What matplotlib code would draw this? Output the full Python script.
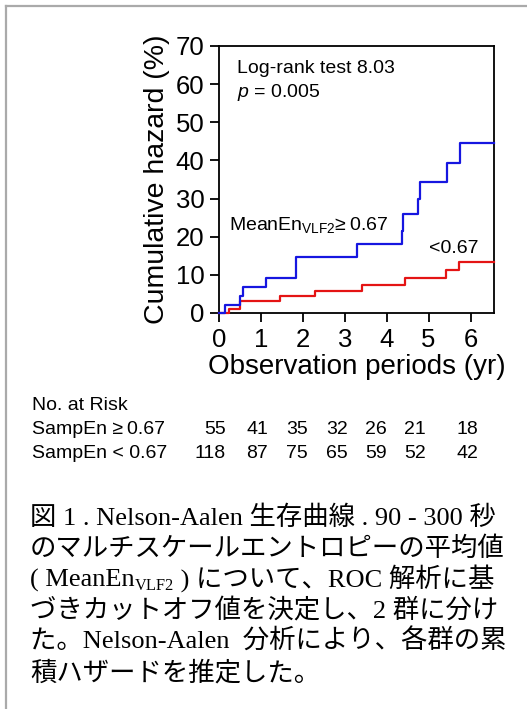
import matplotlib
matplotlib.use("Agg")
import matplotlib.pyplot as plt
from matplotlib.lines import Line2D

W, H = 527, 709
plt.rcParams['font.family'] = ['Liberation Sans', 'DejaVu Sans']
plt.rcParams['mathtext.fontset'] = 'custom'
plt.rcParams['mathtext.rm'] = 'Liberation Sans'
plt.rcParams['mathtext.it'] = 'Liberation Sans:italic'

# ---- data ----
blue_t = [0, 0.14, 0.50, 0.58, 1.12, 1.83, 3.30, 4.36, 4.40, 4.75, 4.79, 5.44, 5.74, 6.56]
blue_h = [0, 2.0, 4.5, 6.7, 9.3, 14.8, 18.1, 21.5, 25.9, 29.9, 34.4, 39.3, 44.6, 44.6]
red_t = [0, 0.25, 0.50, 1.46, 2.28, 3.40, 4.43, 5.42, 5.72, 6.56]
red_h = [0, 1.0, 3.1, 4.4, 5.8, 7.3, 9.2, 11.2, 13.4, 13.4]

x_ticks = [0, 1, 2, 3, 4, 5, 6]
y_ticks = [0, 10, 20, 30, 40, 50, 60, 70]

risk_title = "No. at Risk"
risk_labels = ["SampEn \u2265\u20090.67", "SampEn < 0.67"]
risk_high = [55, 41, 35, 32, 26, 21, 18]
risk_low = [118, 87, 75, 65, 59, 52, 42]

caption_lines = [
    [("図 1 . Nelson-Aalen 生存曲線 . 90 - 300 秒", 'n')],
    [("のマルチスケールエントロピーの平均値", 'n')],
    [("( MeanEn", 'n'), ("VLF2", 's'), (" ) について、ROC 解析に基", 'n')],
    [("づきカットオフ値を決定し、2 群に分け", 'n')],
    [("た。Nelson-Aalen  分析により、各群の累", 'n')],
    [("積ハザードを推定した。", 'n')],
]

# ---- layout ----
fig = plt.figure(figsize=(W / 100, H / 100), dpi=100)
ax_l, ax_r, ax_t, ax_b = 219, 494, 46, 313
ax = fig.add_axes([ax_l / W, 1 - ax_b / H, (ax_r - ax_l) / W, (ax_b - ax_t) / H])

blue = '#1616e0'
red = '#e41414'
ax.plot(red_t, red_h, drawstyle='steps-post', color=red, lw=1.6, clip_on=False, zorder=3)
ax.plot(blue_t, blue_h, drawstyle='steps-post', color=blue, lw=1.6, clip_on=False, zorder=4)

ax.set_xlim(0, 6.56)
ax.set_ylim(0, 70)
ax.set_xticks(x_ticks)
ax.set_yticks(y_ticks)
for s in ax.spines.values():
    s.set_linewidth(1.3)
ax.tick_params(direction='out', length=6.5, width=1.3, labelsize=18.5, pad=4)
ax.set_xlabel("Observation periods (yr)", fontsize=20, labelpad=2)
ax.set_ylabel("Cumulative hazard (%)", fontsize=20.5, labelpad=4)

ax.text(0.42, 64.2, "Log-rank test 8.03", fontsize=14, va='center', ha='left')
ax.text(0.42, 57.8, "$p$ = 0.005", fontsize=14, va='center', ha='left')
ax.text(0.24, 23.0, "MeanEn$_{\\mathregular{VLF2}}$\u2265\u20090.67", fontsize=14, va='center', ha='left')
ax.text(5.0, 17.0, "<0.67", fontsize=14, va='center', ha='left')

# border of the figure panel
fig.add_artist(Line2D([6 / W, 6 / W], [0, 1 - 6 / H], color='#aaaaaa', lw=1.6, transform=fig.transFigure))
fig.add_artist(Line2D([6 / W, 1], [1 - 6 / H, 1 - 6 / H], color='#aaaaaa', lw=1.6, transform=fig.transFigure))

# risk table
rt_x = 32
rt_y = [406, 430, 453]
col_right = [226, 268, 308, 348, 387, 426, 478]
fig.text(rt_x / W, 1 - rt_y[0] / H, risk_title, fontsize=14, va='center', ha='left')
for row, (lab, vals) in enumerate(zip(risk_labels, [risk_high, risk_low])):
    yy = 1 - rt_y[row + 1] / H
    fig.text(rt_x / W, yy, lab, fontsize=14, va='center', ha='left')
    for xr, v in zip(col_right, vals):
        fig.text(xr / W, yy, str(v), fontsize=14, va='center', ha='right')

# caption
renderer = fig.canvas.get_renderer()
cap_fam = ['Liberation Serif', 'Noto Sans CJK JP']
cap_size = 19
cap_x0 = 30
cap_base = [525, 556, 587, 618, 649, 680]
for line, yb in zip(caption_lines, cap_base):
    x = cap_x0
    for s, kind in line:
        if kind == 's':
            t = fig.text(x / W, 1 - (yb + 3) / H, s, fontsize=cap_size * 0.62,
                         family=cap_fam, va='baseline', ha='left')
        else:
            t = fig.text(x / W, 1 - yb / H, s, fontsize=cap_size,
                         family=cap_fam, va='baseline', ha='left')
        bb = t.get_window_extent(renderer)
        x += bb.width

fig.savefig("out.png", dpi=100)
